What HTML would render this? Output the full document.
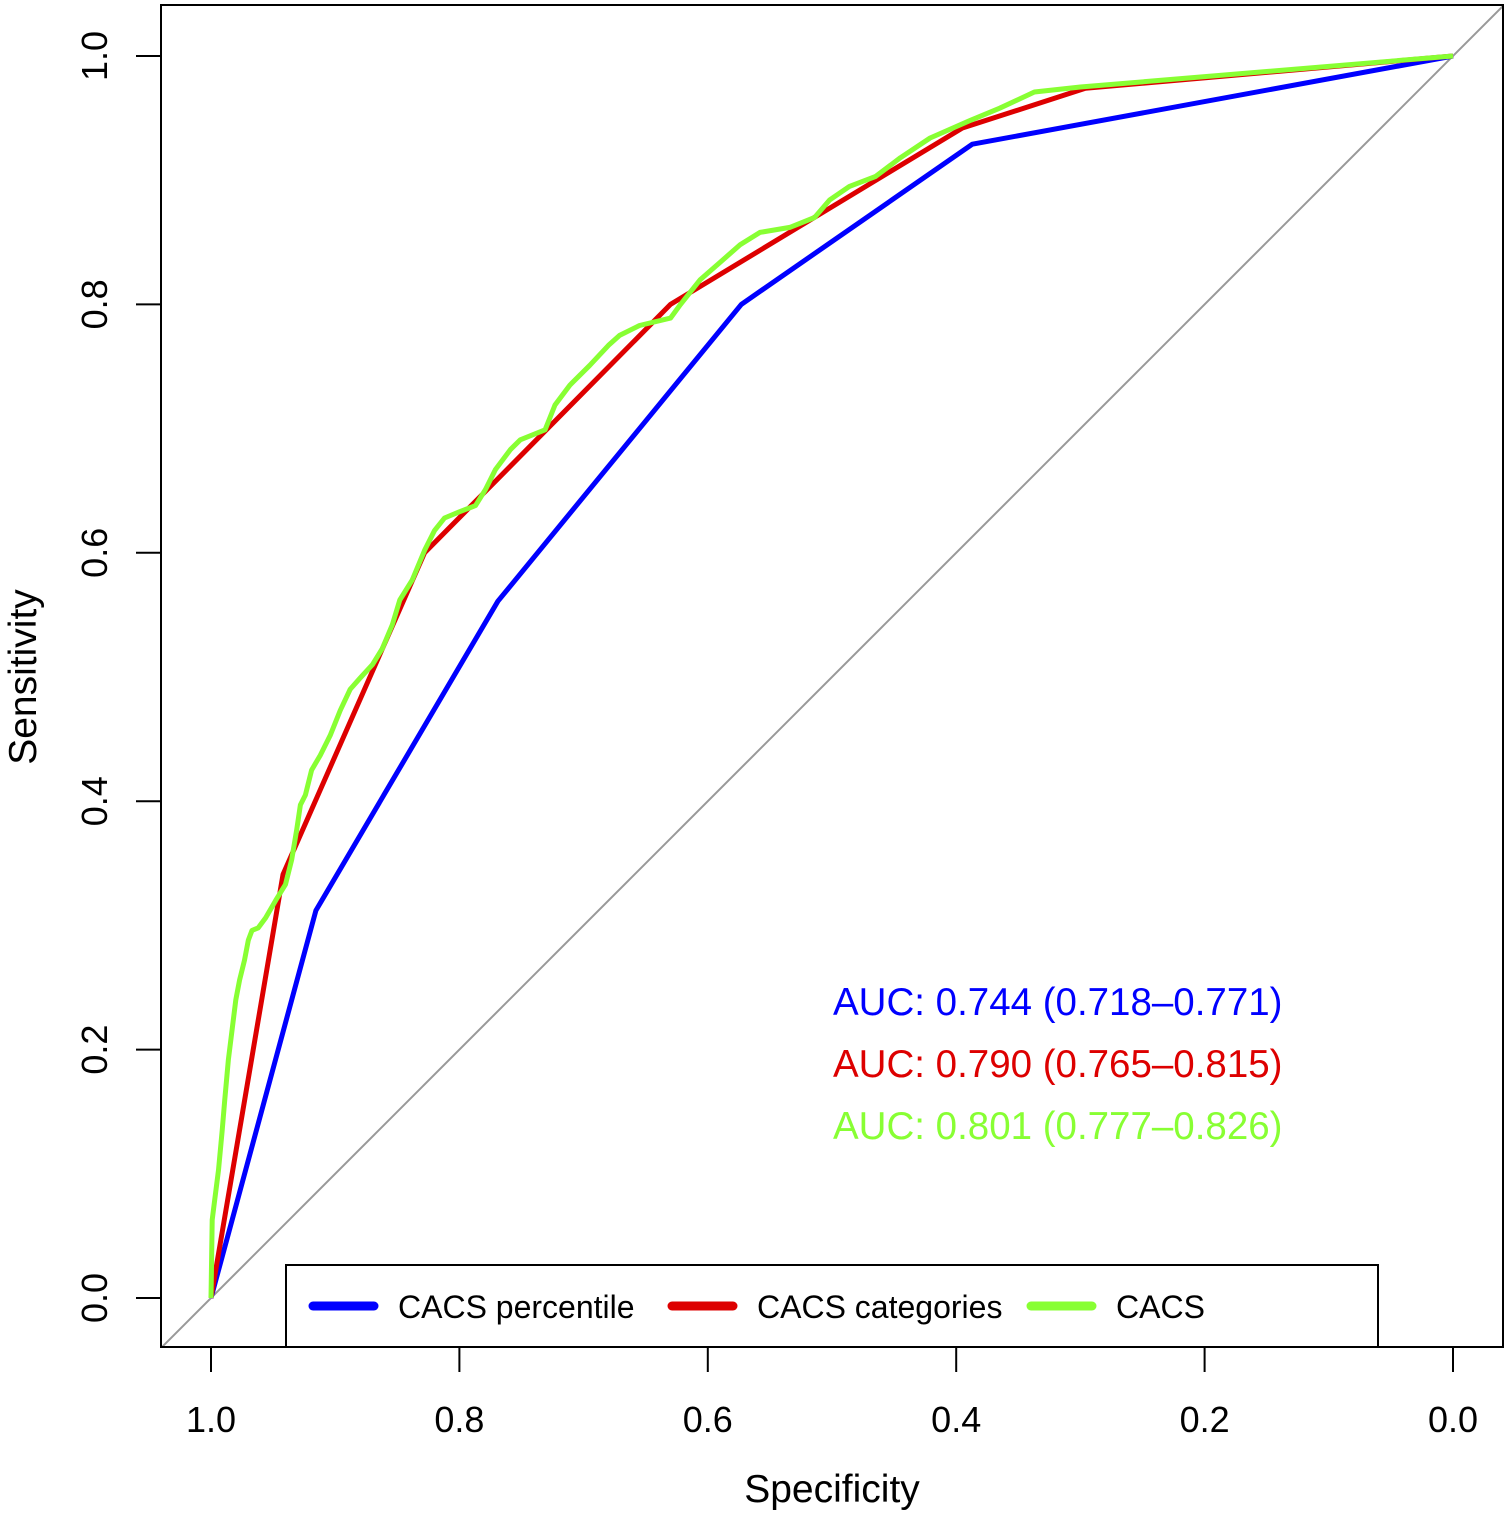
<!DOCTYPE html>
<html><head><meta charset="utf-8"><style>
html,body{margin:0;padding:0;background:#fff;width:1510px;height:1516px;overflow:hidden}
text{font-family:"Liberation Sans",Arial,sans-serif}
</style></head><body>
<svg id="chart" width="1510" height="1516" viewBox="0 0 1510 1516" xmlns="http://www.w3.org/2000/svg">
<defs><clipPath id="plotclip"><rect x="161" y="5" width="1342" height="1342"/></clipPath></defs>
<g id="marks" clip-path="url(#plotclip)"></g>
<rect x="161" y="5" width="1342" height="1342" fill="none" stroke="#000" stroke-width="2"/>
<g id="axes"></g>
<text x="832" y="1502" font-size="39" text-anchor="middle">Specificity</text>
<text transform="translate(36,677) rotate(-90)" font-size="39" text-anchor="middle">Sensitivity</text>
<text x="833" y="1015" font-size="38.5" fill="#0000ff">AUC: 0.744 (0.718–0.771)</text>
<text x="833" y="1077" font-size="38.5" fill="#dd0000">AUC: 0.790 (0.765–0.815)</text>
<text x="833" y="1139" font-size="38.5" fill="#88ff33">AUC: 0.801 (0.777–0.826)</text>
<g>
<rect x="286" y="1265" width="1092" height="82" fill="#fff" stroke="#000" stroke-width="2"/>
<line x1="313" y1="1306" x2="374" y2="1306" stroke="#0000ff" stroke-width="9" stroke-linecap="round"/>
<text x="398" y="1318" font-size="32">CACS percentile</text>
<line x1="672" y1="1306" x2="733" y2="1306" stroke="#dd0000" stroke-width="9" stroke-linecap="round"/>
<text x="757" y="1318" font-size="32">CACS categories</text>
<line x1="1031" y1="1306" x2="1092" y2="1306" stroke="#88ff33" stroke-width="9" stroke-linecap="round"/>
<text x="1116" y="1318" font-size="32">CACS</text>
</g>
</svg>
<script>
const xTicks=[1.0,0.8,0.6,0.4,0.2,0.0];
const yTicks=[0.0,0.2,0.4,0.6,0.8,1.0];
const blueSpec=[1,0.9155,0.769,0.573,0.387,0];
const blueSens=[0,0.312,0.561,0.800,0.929,1];
const redSpec=[1,0.942,0.828,0.63,0.395,0.296,0];
const redSens=[0,0.341,0.600,0.800,0.942,0.974,1];
const greenSpec=[1.000,0.999,0.997,0.994,0.991,0.989,0.986,0.983,0.980,0.977,0.973,0.970,0.967,0.962,0.956,0.948,0.940,0.935,0.931,0.928,0.924,0.919,0.912,0.904,0.896,0.888,0.880,0.870,0.862,0.854,0.848,0.838,0.828,0.820,0.812,0.800,0.787,0.779,0.771,0.759,0.751,0.731,0.723,0.711,0.695,0.680,0.671,0.655,0.630,0.622,0.606,0.590,0.574,0.558,0.534,0.514,0.502,0.486,0.465,0.445,0.421,0.389,0.365,0.337,0.300,0];
const greenSens=[0,0.063,0.079,0.103,0.135,0.159,0.192,0.216,0.240,0.256,0.272,0.288,0.296,0.298,0.306,0.320,0.333,0.353,0.377,0.397,0.405,0.425,0.437,0.453,0.473,0.490,0.499,0.510,0.523,0.542,0.562,0.578,0.602,0.618,0.628,0.633,0.638,0.651,0.667,0.683,0.691,0.699,0.719,0.735,0.751,0.767,0.775,0.783,0.789,0.800,0.820,0.834,0.848,0.858,0.862,0.870,0.884,0.895,0.903,0.918,0.934,0.948,0.958,0.971,0.975,1];
const NS='http://www.w3.org/2000/svg';
const sx=v=>211+(1-v)*1242;
const sy=v=>1298-v*1242;
const marks=document.getElementById('marks');
const axes=document.getElementById('axes');
function mk(tag,attrs,parent){const e=document.createElementNS(NS,tag);for(const k in attrs)e.setAttribute(k,attrs[k]);parent.appendChild(e);return e;}
const diag=mk('line',{x1:sx(1.1),y1:sy(-0.1),x2:sx(-0.1),y2:sy(1.1),stroke:'#999','stroke-width':2},marks);


function curve(spec,sens,color,name){
  const d=spec.map((s,i)=>(i?'L':'M')+sx(s).toFixed(1)+','+sy(sens[i]).toFixed(1)).join('');
  const p=mk('path',{d:d,fill:'none',stroke:color,'stroke-width':5,'stroke-linejoin':'round'},marks);
  
  
}
curve(blueSpec,blueSens,'#0000ff','curve-cacs-percentile');
curve(redSpec,redSens,'#dd0000','curve-cacs-categories');
curve(greenSpec,greenSens,'#88ff33','curve-cacs');
xTicks.forEach(v=>{
  const t=mk('line',{x1:sx(v),y1:1347,x2:sx(v),y2:1372,stroke:'#000','stroke-width':2},axes);
  
  
  const l=mk('text',{x:sx(v),y:1432,'font-size':36,'text-anchor':'middle'},axes);
  l.textContent=v.toFixed(1);
  
  
});
yTicks.forEach(v=>{
  const t=mk('line',{x1:136,y1:sy(v),x2:161,y2:sy(v),stroke:'#000','stroke-width':2},axes);
  
  
  const l=mk('text',{transform:'translate(107,'+sy(v)+') rotate(-90)','font-size':36,'text-anchor':'middle'},axes);
  l.textContent=v.toFixed(1);
  
  
});
</script>
</body></html>
